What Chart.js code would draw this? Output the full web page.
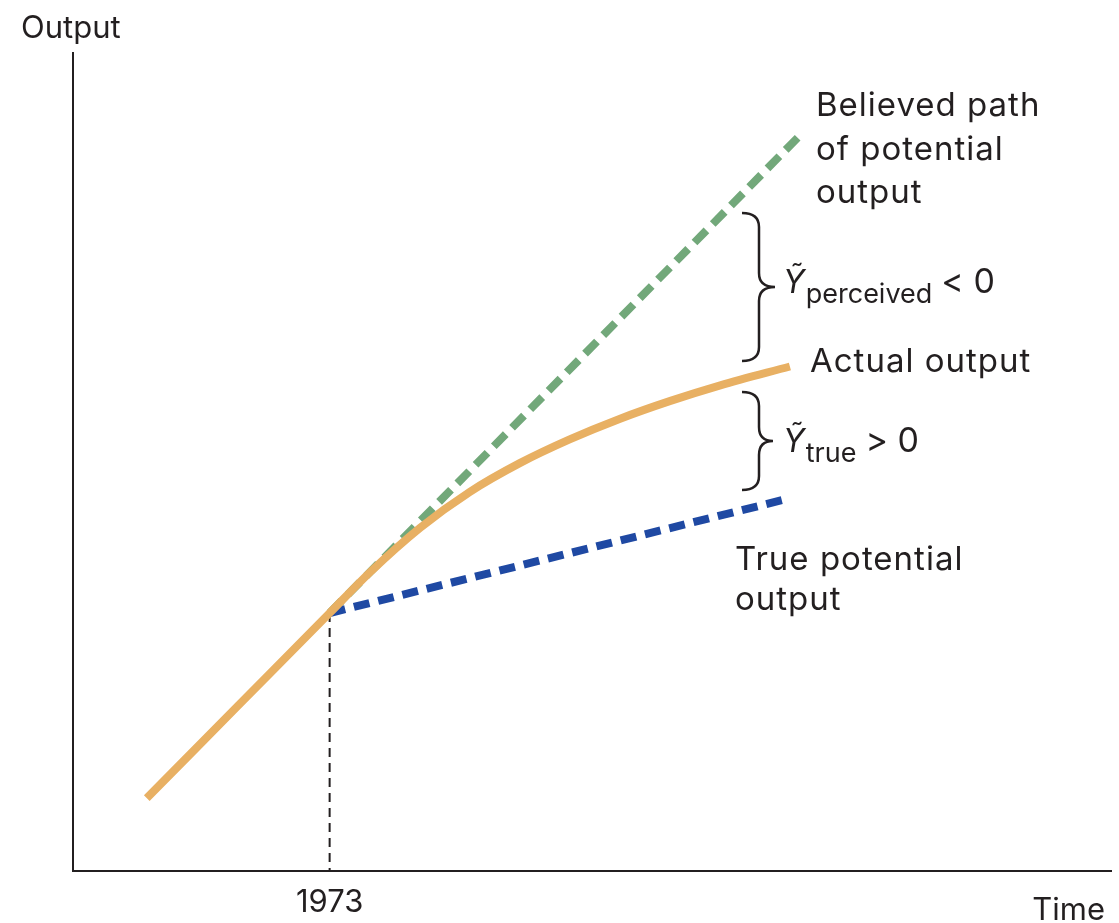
<!DOCTYPE html>
<html>
<head>
<meta charset="utf-8">
<script src="https://cdn.jsdelivr.net/npm/chart.js@4/dist/chart.umd.min.js"></script>
<style>
  html, body { margin: 0; padding: 0; background: #fff; }
  #wrap { width: 1119px; height: 923px; position: relative; }
</style>
</head>
<body>
<div id="wrap"><canvas id="chart" width="1119" height="923"></canvas></div>
<script>
// time / output units are arbitrary (0..10 on both axes)
const actualTime   = [0.71, 1.59, 2.47, 2.86, 3.34, 3.82, 4.30, 4.78, 5.26, 5.75, 6.23, 6.90];
const actualOutput = [0.89, 2.02, 3.15, 3.65, 4.19, 4.63, 4.98, 5.27, 5.52, 5.74, 5.93, 6.16];

const believedTime   = [2.47, 6.98];
const believedOutput = [3.15, 8.96];

const trueTime   = [2.47, 6.83];
const trueOutput = [3.15, 4.53];

const breakTime   = [2.47, 2.47];
const breakOutput = [3.15, 0];
const breakLabel  = "1973";

const FONT = "Inter, 'Liberation Sans', Arial, sans-serif";

const pts = (xs, ys) => xs.map((x, i) => ({ x: x, y: ys[i] }));

// axes, labels and braces are drawn by hand
const annotations = {
    id: "annotations",
    afterDatasetsDraw(chart) {
        const ctx = chart.ctx;
        const a = chart.chartArea;
        const xs = chart.scales.x;
        ctx.save();

        // axes
        ctx.strokeStyle = "#231f20";
        ctx.lineWidth = 2;
        ctx.beginPath();
        ctx.moveTo(a.left, a.top);
        ctx.lineTo(a.left, a.bottom);
        ctx.lineTo(a.right, a.bottom);
        ctx.stroke();

        ctx.fillStyle = "#231f20";
        ctx.textBaseline = "alphabetic";
        ctx.font = "31px " + FONT;
        ctx.textAlign = "left";
        ctx.fillText("Output", 21, 38);
        ctx.textAlign = "right";
        ctx.fillText("Time", 1105, 920);
        ctx.textAlign = "center";
        ctx.fillText(breakLabel, xs.getPixelForValue(breakTime[0]), 912);

        // line labels
        ctx.textAlign = "left";
        ctx.font = "33px " + FONT;
        ctx.letterSpacing = "1px";
        ctx.fillText("Believed path", 816, 116);
        ctx.fillText("of potential", 816, 160);
        ctx.fillText("output", 816, 203);
        ctx.fillText("Actual output", 810, 372);
        ctx.fillText("True potential", 735, 570);
        ctx.fillText("output", 735, 610);
        ctx.letterSpacing = "0px";

        // braces
        const brace = (x0, top, bottom, tipX) => {
            const mid = (top + bottom) / 2;
            const xm = x0 + 17;
            const r = 14;
            ctx.beginPath();
            ctx.moveTo(x0, top);
            ctx.quadraticCurveTo(xm, top, xm, top + r);
            ctx.lineTo(xm, mid - r);
            ctx.quadraticCurveTo(xm, mid, tipX, mid);
            ctx.quadraticCurveTo(xm, mid, xm, mid + r);
            ctx.lineTo(xm, bottom - r);
            ctx.quadraticCurveTo(xm, bottom, x0, bottom);
            ctx.stroke();
        };
        ctx.lineWidth = 2.5;
        ctx.strokeStyle = "#231f20";
        brace(742, 213, 361, 775);
        brace(742, 392, 490, 773);

        // gap labels
        const gapLabel = (x, base, sub, rel) => {
            ctx.font = "italic 32px " + FONT;
            ctx.fillText("\u1EF8", x, base);
            const w = ctx.measureText("\u1EF8").width;
            ctx.font = "27px " + FONT;
            ctx.fillText(sub, x + w + 1, base + 10);
            const ws = ctx.measureText(sub).width;
            ctx.font = "34px " + FONT;
            ctx.fillText(rel, x + w + ws + 10, base);
        };
        gapLabel(783, 293, "perceived", "< 0");
        gapLabel(783, 452, "true", "> 0");

        ctx.restore();
    }
};

new Chart(document.getElementById("chart"), {
    type: "line",
    data: {
        datasets: [
            {
                label: "Believed path of potential output",
                data: pts(believedTime, believedOutput),
                borderColor: "#72a87a",
                borderWidth: 8,
                borderDash: [17, 9],
                pointRadius: 0,
                order: 3
            },
            {
                label: "True potential output",
                data: pts(trueTime, trueOutput),
                borderColor: "#1f49a3",
                borderWidth: 8,
                borderDash: [16, 9],
                pointRadius: 0,
                order: 2
            },
            {
                label: "1973",
                data: pts(breakTime, breakOutput),
                borderColor: "#231f20",
                borderWidth: 2,
                borderDash: [9, 6],
                pointRadius: 0,
                order: 4
            },
            {
                label: "Actual output",
                data: pts(actualTime, actualOutput),
                borderColor: "#e8b063",
                borderWidth: 8,
                cubicInterpolationMode: "monotone",
                pointRadius: 0,
                order: 1
            }
        ]
    },
    options: {
        responsive: false,
        animation: false,
        layout: { padding: { left: 73, top: 52, right: 7, bottom: 52 } },
        plugins: {
            legend: { display: false },
            tooltip: { enabled: false }
        },
        scales: {
            x: { type: "linear", min: 0, max: 10, display: false },
            y: { type: "linear", min: 0, max: 10, display: false }
        }
    },
    plugins: [annotations]
});
</script>
</body>
</html>
